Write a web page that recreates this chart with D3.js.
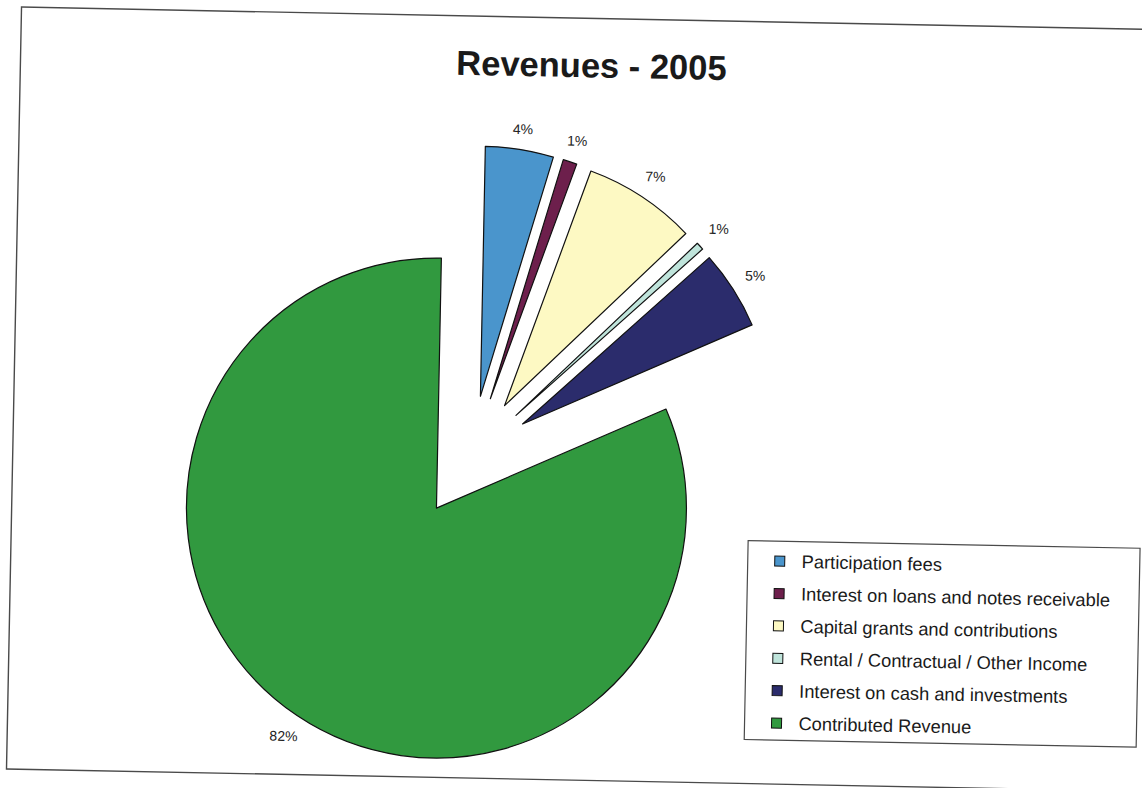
<!DOCTYPE html>
<html>
<head>
<meta charset="utf-8">
<script src="https://cdn.jsdelivr.net/npm/d3@7"></script>
<style>
  body { margin: 0; background: #fff; }
  svg { display: block; font-family: "Liberation Sans", Arial, sans-serif; }
</style>
</head>
<body>
<div id="chart"></div>
<script>
// Revenue categories, in pie order (clockwise from 12 o'clock)
const categories = [
    'Participation fees',
    'Interest on loans and notes receivable',
    'Capital grants and contributions',
    'Rental / Contractual / Other Income',
    'Interest on cash and investments',
    'Contributed Revenue'
];
// Share of revenue, percent
const shares = [4.4, 0.9, 7.3, 0.5, 5.1, 81.8];
const colors = ['#4a95cc', '#6d1f4c', '#fdf9c3', '#bfe4db', '#2b2c6c', '#31993f'];

const width = 1142;
const height = 788;

const svg = d3.select('#chart')
    .append('svg')
    .attr('width', width)
    .attr('height', height);

svg.append('rect')
    .attr('width', width)
    .attr('height', height)
    .attr('fill', '#fff');

// the scanned page sits slightly skewed
const g = svg.append('g')
    .attr('transform', 'rotate(1.13, 571, 394)');

// chart frame
g.append('rect')
    .attr('x', 14)
    .attr('y', 18)
    .attr('width', 1150)
    .attr('height', 762)
    .attr('fill', 'none')
    .attr('stroke', '#4a4a4a')
    .attr('stroke-width', 1.4);

// title
g.append('text')
    .attr('x', 585)
    .attr('y', 77)
    .attr('text-anchor', 'middle')
    .attr('font-size', '34.5px')
    .attr('font-weight', 'bold')
    .attr('fill', '#1a1a1a')
    .text('Revenues - 2005');

// pie
const cx = 472, cy = 459;
const radius = 250;
const explode = 61.5;

const data = categories.map((c, i) => ({ name: c, value: shares[i], color: colors[i] }));

const pie = d3.pie()
    .sort(null)
    .value(d => d.value)
    .startAngle(0)
    .endAngle(2 * Math.PI);

const arc = d3.arc()
    .innerRadius(0)
    .outerRadius(radius);

const arcs = pie(data);

const pieG = g.append('g')
    .attr('transform', `translate(${cx},${cy})`);

function dir(d) {
    const a = (d.startAngle + d.endAngle) / 2;
    return [Math.sin(a), -Math.cos(a)];
}

pieG.selectAll('path')
    .data(arcs)
    .join('path')
    .attr('d', arc)
    .attr('transform', d => {
        const [ux, uy] = dir(d);
        return `translate(${ux * explode},${uy * explode})`;
    })
    .attr('fill', d => d.data.color)
    .attr('stroke', '#111')
    .attr('stroke-width', 1.2)
    .attr('stroke-linejoin', 'round');

// percent labels outside each slice
function labelDist(d) {
    const [ux, uy] = dir(d);
    return explode + radius + 12 + Math.abs(ux) * 12 + Math.abs(uy) * 7;
}

pieG.selectAll('text')
    .data(arcs)
    .join('text')
    .attr('text-anchor', 'middle')
    .attr('dominant-baseline', 'central')
    .attr('font-size', '14px')
    .attr('fill', '#222')
    .attr('x', d => dir(d)[0] * labelDist(d))
    .attr('y', d => dir(d)[1] * labelDist(d))
    .text(d => Math.round(d.data.value) + '%');

// legend
const legend = g.append('g')
    .attr('transform', 'translate(751,537)');

legend.append('rect')
    .attr('width', 392)
    .attr('height', 199)
    .attr('fill', '#fff')
    .attr('stroke', '#4a4a4a')
    .attr('stroke-width', 1.2);

const item = legend.selectAll('g.item')
    .data(data)
    .join('g')
    .attr('class', 'item')
    .attr('transform', (d, i) => `translate(0,${20 + i * 32.4})`);

item.append('rect')
    .attr('x', 27)
    .attr('y', -5)
    .attr('width', 10)
    .attr('height', 10)
    .attr('fill', d => d.color)
    .attr('stroke', '#111')
    .attr('stroke-width', 1);

item.append('text')
    .attr('x', 54)
    .attr('y', 0)
    .attr('dominant-baseline', 'central')
    .attr('font-size', '18.3px')
    .attr('fill', '#1a1a1a')
    .text(d => d.name);
</script>
</body>
</html>
